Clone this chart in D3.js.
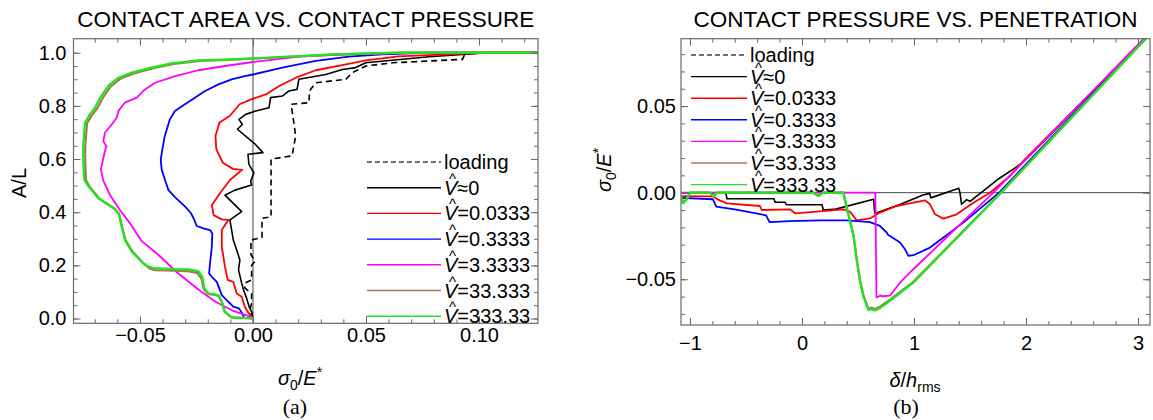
<!DOCTYPE html>
<html>
<head>
<meta charset="utf-8">
<script src="https://cdn.jsdelivr.net/npm/d3@7"></script>
<style>
  body { margin: 0; background: #fff; }
  svg { font-family: "Liberation Sans", Arial, Helvetica, sans-serif; }
</style>
</head>
<body>
<div id="vis"></div>
<script>
// ---------- data, panel (a): [sigma0/E*, A/L]
const areaLoading = [[0,0],[-0.0013,0.03],[-0.0006,0.06],[-0.0006,0.094],[-0.0036,0.115],[-0.0036,0.133],[-0.0006,0.145],[-0.0006,0.2],[0.0009,0.215],[-0.0009,0.24],[-0.0009,0.295],[0.004,0.305],[0.004,0.377],[0.008,0.383],[0.008,0.6],[0.0173,0.612],[0.0189,0.687],[0.0169,0.806],[0.0248,0.812],[0.025,0.856],[0.0278,0.887],[0.0411,0.9],[0.044,0.925],[0.0499,0.95],[0.0617,0.962],[0.0927,0.975],[0.0939,0.997],[0.1144,1.0]];
const areaV0 = [[0,0],[-0.0006,0.025],[-0.0017,0.044],[-0.0028,0.076],[-0.0042,0.108],[-0.005,0.133],[-0.0064,0.183],[-0.0058,0.22],[-0.0072,0.258],[-0.0087,0.295],[-0.0102,0.371],[-0.005,0.402],[-0.0124,0.464],[-0.008,0.483],[-0.0006,0.502],[-0.001,0.517],[0.0004,0.548],[-0.0018,0.58],[-0.0022,0.618],[0.0044,0.624],[0.0011,0.655],[-0.0069,0.712],[-0.0047,0.73],[-0.0062,0.749],[-0.0032,0.768],[0.0012,0.781],[0.0071,0.793],[0.0078,0.831],[0.013,0.837],[0.0159,0.856],[0.0195,0.862],[0.0203,0.9],[0.0322,0.918],[0.0395,0.937],[0.0454,0.944],[0.0499,0.962],[0.0778,0.985],[0.1044,1.0],[0.126,1.0]];
const areaV1 = [[0,0],[-0.0006,0.006],[-0.0023,0.025],[-0.0036,0.044],[-0.005,0.082],[-0.0072,0.094],[-0.0087,0.138],[-0.0112,0.145],[-0.0124,0.195],[-0.0138,0.27],[-0.0138,0.333],[-0.0109,0.371],[-0.0138,0.373],[-0.0174,0.389],[-0.0182,0.427],[-0.0146,0.471],[-0.0102,0.521],[-0.0048,0.559],[-0.0089,0.563],[-0.0133,0.586],[-0.0162,0.636],[-0.0166,0.687],[-0.0148,0.737],[-0.0103,0.762],[-0.0059,0.806],[0,0.827],[0.0057,0.843],[0.0116,0.875],[0.019,0.906],[0.0278,0.934],[0.0395,0.953],[0.0499,0.971],[0.0644,0.986],[0.1044,1.0],[0.126,1.0]];
const areaV2 = [[0,0],[-0.004,0.003],[-0.0048,0.02],[-0.0062,0.038],[-0.0087,0.045],[-0.0109,0.063],[-0.0138,0.088],[-0.016,0.138],[-0.0182,0.157],[-0.0194,0.17],[-0.019,0.208],[-0.0182,0.27],[-0.018,0.32],[-0.019,0.333],[-0.0219,0.339],[-0.0249,0.348],[-0.0259,0.37],[-0.0274,0.396],[-0.03,0.421],[-0.0344,0.456],[-0.0374,0.483],[-0.0389,0.521],[-0.0404,0.561],[-0.0408,0.598],[-0.0401,0.636],[-0.039,0.687],[-0.0368,0.749],[-0.0345,0.781],[-0.0301,0.806],[-0.0257,0.831],[-0.0212,0.856],[-0.0153,0.881],[-0.0094,0.9],[-0.0036,0.912],[0,0.918],[0.013,0.944],[0.0278,0.969],[0.0424,0.985],[0.0572,0.994],[0.0793,1.0],[0.126,1.0]];
const areaV3 = [[0,0.004],[-0.0032,0.013],[-0.0091,0.03],[-0.0166,0.063],[-0.0239,0.107],[-0.0338,0.175],[-0.0419,0.24],[-0.0493,0.292],[-0.0544,0.358],[-0.0589,0.408],[-0.0633,0.465],[-0.0663,0.521],[-0.0673,0.561],[-0.0655,0.63],[-0.0648,0.648],[-0.0662,0.667],[-0.0655,0.699],[-0.0625,0.73],[-0.0603,0.755],[-0.0595,0.781],[-0.0567,0.812],[-0.0514,0.831],[-0.0478,0.862],[-0.0433,0.887],[-0.0344,0.912],[-0.0242,0.934],[-0.0124,0.95],[0,0.965],[0.0203,0.985],[0.0424,0.994],[0.0722,1.0],[0.126,1.0]];
const areaV4 = [[0,0],[-0.0094,0.004],[-0.0109,0.014],[-0.0127,0.028],[-0.0137,0.06],[-0.0152,0.086],[-0.0175,0.09],[-0.0198,0.092],[-0.0218,0.11],[-0.0228,0.15],[-0.0247,0.172],[-0.0289,0.178],[-0.035,0.18],[-0.0433,0.182],[-0.0458,0.188],[-0.0481,0.205],[-0.0531,0.25],[-0.0564,0.295],[-0.0579,0.345],[-0.0592,0.393],[-0.0611,0.413],[-0.0678,0.45],[-0.0722,0.495],[-0.0739,0.521],[-0.0742,0.586],[-0.0742,0.648],[-0.0734,0.735],[-0.0712,0.765],[-0.0689,0.79],[-0.0666,0.828],[-0.063,0.872],[-0.0585,0.903],[-0.0526,0.922],[-0.044,0.942],[-0.0351,0.958],[-0.0233,0.969],[-0.0089,0.974],[0.0056,0.98],[0.0355,0.993],[0.0666,1.0],[0.126,1.0]];
const areaV5 = [[0,0],[-0.0094,0.004],[-0.0106,0.012],[-0.0124,0.025],[-0.0135,0.057],[-0.015,0.085],[-0.0172,0.092],[-0.0197,0.094],[-0.0215,0.114],[-0.0224,0.157],[-0.0242,0.178],[-0.0287,0.185],[-0.0345,0.186],[-0.0439,0.19],[-0.0463,0.195],[-0.0485,0.208],[-0.0536,0.251],[-0.0566,0.295],[-0.0581,0.345],[-0.0595,0.396],[-0.0617,0.415],[-0.0684,0.452],[-0.0729,0.498],[-0.0746,0.521],[-0.0751,0.586],[-0.0751,0.648],[-0.0743,0.737],[-0.0721,0.768],[-0.0699,0.793],[-0.0676,0.831],[-0.064,0.875],[-0.0595,0.906],[-0.0536,0.925],[-0.0449,0.944],[-0.036,0.96],[-0.0242,0.971],[-0.0094,0.975],[0.0052,0.981],[0.0351,0.994],[0.0644,1.0],[0.126,1.0]];

// ---------- data, panel (b): [delta/h_rms, sigma0/E*]
const presV0 = [[-1.08,0],[-0.68,0],[-0.67,-0.0035],[-0.25,-0.0035],[-0.24,-0.0055],[-0.15,-0.0055],[-0.14,-0.007],[0.18,-0.007],[0.19,-0.01],[0.3,-0.0095],[0.64,-0.0038],[0.65,-0.012],[0.88,-0.0067],[1.08,-0.0013],[1.14,-0.0004],[1.15,-0.003],[1.4,0.0025],[1.41,0],[1.425,-0.0067],[1.47,-0.004],[1.5,-0.005],[1.6,0],[1.74,0.0073],[1.92,0.015],[1.98,0.0179],[3.12,0.0925]];
const presV1 = [[-1.08,-0.002],[-0.795,-0.0021],[-0.75,-0.004],[-0.67,-0.0062],[-0.375,-0.0077],[-0.36,-0.01],[-0.107,-0.0096],[-0.062,-0.0119],[0.13,-0.011],[0.369,-0.0096],[0.43,-0.011],[0.488,-0.016],[0.607,-0.0149],[0.696,-0.0115],[0.845,-0.0077],[0.994,-0.0058],[1.098,-0.0044],[1.143,-0.0067],[1.188,-0.0125],[1.262,-0.015],[1.381,-0.0125],[1.53,-0.0058],[1.679,0],[1.857,0.0096],[1.976,0.0183],[3.12,0.0925]];
const presV2 = [[-1.08,-0.003],[-0.795,-0.0038],[-0.765,-0.008],[-0.587,-0.0098],[-0.32,-0.0131],[-0.29,-0.017],[-0.11,-0.0164],[0.161,-0.016],[0.4,-0.016],[0.607,-0.017],[0.696,-0.0192],[0.756,-0.023],[0.77,-0.0245],[0.786,-0.025],[0.875,-0.0288],[0.92,-0.0327],[0.95,-0.0365],[0.994,-0.0361],[1.143,-0.0317],[1.44,-0.0173],[1.76,0],[3.12,0.0928]];
const presV3 = [[-1.08,0],[0.655,0],[0.66,-0.03],[0.665,-0.0604],[0.69,-0.0598],[0.7,-0.0592],[0.71,-0.0598],[0.786,-0.0594],[0.875,-0.052],[0.994,-0.0442],[1.708,0],[3.12,0.0935]];
const presV4 = [[-1.08,-0.002],[-1.074,-0.003],[-1.06,-0.0058],[-1.03,-0.0038],[-1.0,0],[-0.82,0],[-0.79,-0.002],[-0.76,0],[0.1,0],[0.146,-0.0018],[0.19,0],[0.37,0],[0.4,-0.0088],[0.43,-0.0165],[0.46,-0.0245],[0.49,-0.0385],[0.52,-0.051],[0.55,-0.0595],[0.592,-0.067],[0.622,-0.0664],[0.652,-0.0672],[0.696,-0.0658],[0.786,-0.0618],[0.994,-0.0515],[1.775,0],[3.12,0.0924]];
const presV5 = [[-1.08,-0.002],[-1.074,-0.0032],[-1.06,-0.0061],[-1.03,-0.004],[-1.0,0],[-0.82,0],[-0.79,-0.0023],[-0.76,0],[0.1,0],[0.146,-0.002],[0.19,0],[0.37,0],[0.4,-0.009],[0.43,-0.017],[0.46,-0.025],[0.488,-0.039],[0.518,-0.0514],[0.548,-0.06],[0.592,-0.0677],[0.622,-0.0673],[0.652,-0.068],[0.696,-0.0667],[0.786,-0.0625],[0.994,-0.052],[1.777,0],[3.12,0.0924]];

// legend entries + tick labels
const seriesNames = ['loading', '\u22480', '=0.0333', '=0.3333', '=3.3333', '=33.333', '=333.33'];
const aXTicks = [-0.05, 0, 0.05, 0.10];
const aXTickLabels = ['\u22120.05', '0.00', '0.05', '0.10'];
const aYTicks = [0, 0.2, 0.4, 0.6, 0.8, 1.0];
const aYTickLabels = ['0.0', '0.2', '0.4', '0.6', '0.8', '1.0'];
const bXTicks = [-1, 0, 1, 2, 3];
const bXTickLabels = ['\u22121', '0', '1', '2', '3'];
const bYTicks = [-0.05, 0, 0.05];
const bYTickLabels = ['\u22120.05', '0.00', '0.05'];

// styles
const colors = ['#000000', '#000000', '#ff0000', '#0000ff', '#ff00ff', '#a57a4e', '#1ee61e'];
const widths = [1.6, 1.6, 1.8, 1.8, 1.8, 2.2, 2.2];
const frameColor = '#6a6a6a';

const svg = d3.select('#vis')
    .append('svg')
    .attr('width', 1153)
    .attr('height', 420);

function drawPanel(cfg) {
    const x = d3.scaleLinear().domain(cfg.xDomain).range([cfg.x0, cfg.x1]);
    const y = d3.scaleLinear().domain(cfg.yDomain).range([cfg.y1, cfg.y0]);
    const g = svg.append('g');

    g.append('clipPath').attr('id', cfg.id)
        .append('rect')
        .attr('x', cfg.x0).attr('y', cfg.y0)
        .attr('width', cfg.x1 - cfg.x0).attr('height', cfg.y1 - cfg.y0);

    // zero reference line
    if (cfg.zeroLine === 'x') {
        g.append('line').attr('x1', x(0)).attr('x2', x(0)).attr('y1', cfg.y0).attr('y2', cfg.y1)
            .attr('stroke', '#444').attr('stroke-width', 1);
    } else {
        g.append('line').attr('x1', cfg.x0).attr('x2', cfg.x1).attr('y1', y(0)).attr('y2', y(0))
            .attr('stroke', '#444').attr('stroke-width', 1);
    }

    const line = d3.line().x(d => x(d[0])).y(d => y(d[1]));
    g.append('g').attr('clip-path', `url(#${cfg.id})`)
        .selectAll('path')
        .data(cfg.series)
        .join('path')
        .attr('d', d => d ? line(d) : null)
        .attr('fill', 'none')
        .attr('stroke', (d, i) => colors[i])
        .attr('stroke-width', (d, i) => widths[i])
        .attr('stroke-linejoin', 'round')
        .attr('stroke-dasharray', (d, i) => i === 0 ? '6,4' : null);

    // axes, ticks inward on all four sides
    const styleAxis = sel => {
        sel.select('.domain').remove();
        sel.selectAll('line').attr('stroke', frameColor);
        sel.selectAll('text').attr('font-size', 20).attr('fill', '#000')
            .attr('font-family', '"Liberation Sans", Arial, sans-serif');
    };
    const fmt = (labels, ticks) => d => labels[ticks.indexOf(d)];

    g.append('g').attr('transform', `translate(0,${cfg.y1})`)
        .call(d3.axisBottom(x).tickValues(cfg.xMinor).tickSize(-4).tickFormat('')).call(styleAxis);
    g.append('g').attr('transform', `translate(0,${cfg.y1})`)
        .call(d3.axisBottom(x).tickValues(cfg.xTicks).tickSize(-7).tickPadding(cfg.xPad)
            .tickFormat(fmt(cfg.xLabels, cfg.xTicks))).call(styleAxis);
    g.append('g').attr('transform', `translate(0,${cfg.y0})`)
        .call(d3.axisTop(x).tickValues(cfg.xMinor).tickSize(-4).tickFormat('')).call(styleAxis);
    g.append('g').attr('transform', `translate(0,${cfg.y0})`)
        .call(d3.axisTop(x).tickValues(cfg.xTicks).tickSize(-7).tickFormat('')).call(styleAxis);

    g.append('g').attr('transform', `translate(${cfg.x0},0)`)
        .call(d3.axisLeft(y).tickValues(cfg.yMinor).tickSize(-4).tickFormat('')).call(styleAxis);
    g.append('g').attr('transform', `translate(${cfg.x0},0)`)
        .call(d3.axisLeft(y).tickValues(cfg.yTicks).tickSize(-7).tickPadding(cfg.yPad)
            .tickFormat(fmt(cfg.yLabels, cfg.yTicks))).call(styleAxis);
    g.append('g').attr('transform', `translate(${cfg.x1},0)`)
        .call(d3.axisRight(y).tickValues(cfg.yMinor).tickSize(-4).tickFormat('')).call(styleAxis);
    g.append('g').attr('transform', `translate(${cfg.x1},0)`)
        .call(d3.axisRight(y).tickValues(cfg.yTicks).tickSize(-7).tickFormat('')).call(styleAxis);

    g.append('rect')
        .attr('x', cfg.x0).attr('y', cfg.y0)
        .attr('width', cfg.x1 - cfg.x0).attr('height', cfg.y1 - cfg.y0)
        .attr('fill', 'none').attr('stroke', frameColor).attr('stroke-width', 1.2);

    // title
    g.append('text')
        .attr('x', (cfg.x0 + cfg.x1) / 2).attr('y', 27)
        .attr('text-anchor', 'middle').attr('font-size', 22.5)
        .text(cfg.title);

    // legend
    const lg = g.append('g');
    seriesNames.forEach((name, i) => {
        const cy = cfg.legend.y + i * cfg.legend.dy;
        lg.append('line')
            .attr('x1', cfg.legend.x0).attr('x2', cfg.legend.x1)
            .attr('y1', cy).attr('y2', cy)
            .attr('stroke', i === 0 ? '#444' : colors[i])
            .attr('stroke-width', 1.4)
            .attr('stroke-dasharray', i === 0 ? '5,3' : null);
        const t = lg.append('text')
            .attr('x', cfg.legend.tx).attr('y', cy).attr('dy', '0.35em')
            .attr('font-size', 20);
        if (i === 0) {
            t.text(name);
        } else {
            t.append('tspan').attr('font-style', 'italic').text('V');
            t.append('tspan').text(name);
            // circumflex over the V
            lg.append('text')
                .attr('x', cfg.legend.tx + 8.5).attr('y', cy - 4)
                .attr('text-anchor', 'middle').attr('font-size', 15)
                .text('^');
        }
    });
    return { x, y };
}

// panel (a)
drawPanel({
    id: 'clipA', title: 'CONTACT AREA VS. CONTACT PRESSURE',
    x0: 73.5, x1: 538, y0: 38.7, y1: 323.3,
    xDomain: [-0.0794, 0.1261], yDomain: [-0.018, 1.0527],
    xTicks: aXTicks, xLabels: aXTickLabels, xMinor: d3.range(-7, 13).map(d => d / 100),
    yTicks: aYTicks, yLabels: aYTickLabels, yMinor: d3.range(0, 21).map(d => d / 20),
    xPad: 5, yPad: 7,
    zeroLine: 'x',
    series: [areaLoading, areaV0, areaV1, areaV2, areaV3, areaV4, areaV5],
    legend: { x0: 367, x1: 441, tx: 444, y: 162, dy: 25.7 }
});

// panel (b)
drawPanel({
    id: 'clipB', title: 'CONTACT PRESSURE VS. PENETRATION',
    x0: 681, x1: 1150, y0: 38.7, y1: 325,
    xDomain: [-1.08, 3.107], yDomain: [-0.0764, 0.0889],
    xTicks: bXTicks, xLabels: bXTickLabels, xMinor: d3.range(-5, 16).map(d => d / 5),
    yTicks: bYTicks, yLabels: bYTickLabels, yMinor: d3.range(-7, 9).map(d => d / 100),
    xPad: 11, yPad: 5,
    zeroLine: 'y',
    series: [null, presV0, presV1, presV2, presV3, presV4, presV5],
    legend: { x0: 691, x1: 747, tx: 750, y: 55, dy: 21.6 }
});

// axis labels
const xa = svg.append('text').attr('x', 300).attr('y', 385).attr('text-anchor', 'middle').attr('font-size', 20);
xa.append('tspan').attr('font-style', 'italic').text('\u03C3');
xa.append('tspan').attr('font-size', 14).attr('dy', 5).text('0');
xa.append('tspan').attr('dy', -5).text('/');
xa.append('tspan').attr('font-style', 'italic').text('E');
xa.append('tspan').attr('font-size', 14).attr('dy', -8).text('*');

const xb = svg.append('text').attr('x', 915).attr('y', 387).attr('text-anchor', 'middle').attr('font-size', 20);
xb.append('tspan').attr('font-style', 'italic').text('\u03B4');
xb.append('tspan').text('/');
xb.append('tspan').attr('font-style', 'italic').text('h');
xb.append('tspan').attr('font-size', 14).attr('dy', 5).text('rms');

svg.append('text').attr('transform', 'translate(26,183) rotate(-90)')
    .attr('text-anchor', 'middle').attr('font-size', 20).text('A/L');

const ya = svg.append('text').attr('transform', 'translate(611,170) rotate(-90)')
    .attr('text-anchor', 'middle').attr('font-size', 20);
ya.append('tspan').attr('font-style', 'italic').text('\u03C3');
ya.append('tspan').attr('font-size', 14).attr('dy', 5).text('0');
ya.append('tspan').attr('dy', -5).text('/');
ya.append('tspan').attr('font-style', 'italic').text('E');
ya.append('tspan').attr('font-size', 14).attr('dy', -8).text('*');

svg.append('text').attr('x', 295).attr('y', 414).attr('text-anchor', 'middle')
    .attr('font-family', '"Liberation Serif", "Times New Roman", serif').attr('font-size', 22).text('(a)');
svg.append('text').attr('x', 906).attr('y', 414).attr('text-anchor', 'middle')
    .attr('font-family', '"Liberation Serif", "Times New Roman", serif').attr('font-size', 22).text('(b)');
</script>
</body>
</html>
